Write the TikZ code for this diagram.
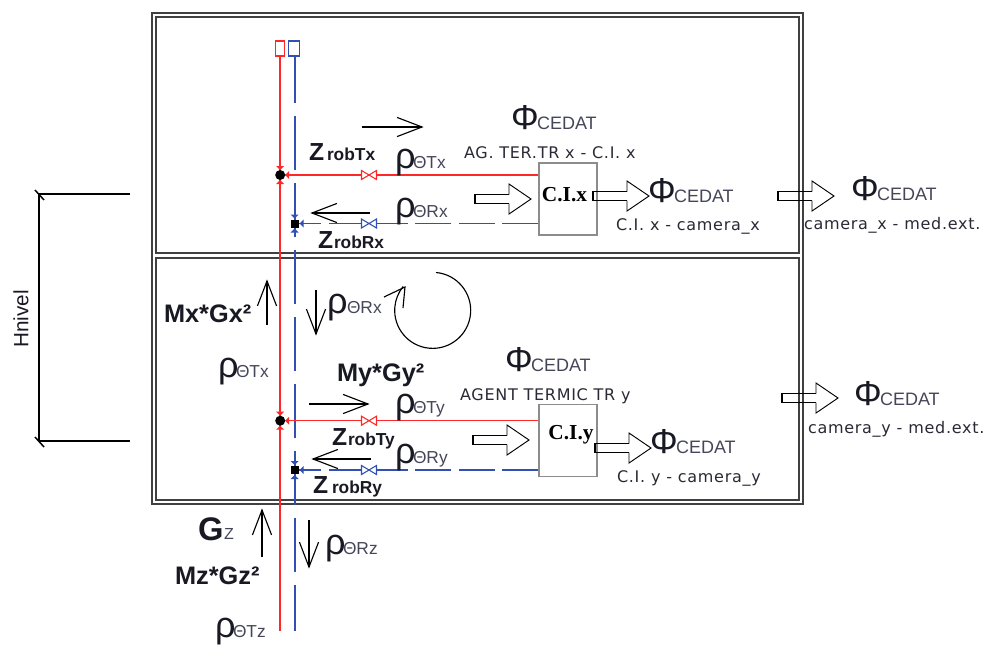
\documentclass[tikz,border=0pt]{standalone}
\usepackage{fontspec}
\setmainfont{DejaVu Sans}
\newfontfamily\capf[LetterSpace=4.5]{DejaVu Sans}
\newfontfamily\boldf{Liberation Sans}
\newfontfamily\ciserif{Liberation Serif}
\usetikzlibrary{calc}
\definecolor{redl}{RGB}{255,40,40}
\definecolor{bluel}{RGB}{50,80,180}
\definecolor{txt}{RGB}{25,25,35}
\definecolor{subt}{RGB}{70,70,90}
\newcommand{\sz}[1]{\fontsize{#1}{#1}\selectfont}
\newcommand{\oarrow}[2]{%
  \coordinate (oA) at #1; \coordinate (oB) at #2;
  \draw[thinl] (oA) -- (oB);
  \draw[thinl] ($(oB)!20pt!21:(oA)$) -- (oB) -- ($(oB)!20pt!-21:(oA)$);}
\newcommand{\blockar}[2]{% tail x, centre y
  \draw[blockhead] (#1+34,#2-4.5) -- ++(0,-10.5) -- ++(22,15) -- ++(-22,15) -- ++(0,-10.5);
  \draw[blockshaft] (#1+34,#2-4.5) -- (#1,#2-4.5) -- (#1,#2+4.5) -- (#1+34,#2+4.5);}
\newcommand{\valve}[4]{% x y colour name
  \node[inner sep=0,minimum size=0] (#4) at (#1,#2) {};
  \draw[#3,line width=0.8pt,fill=white] (#1-7.5,#2-4.5) -- (#1+7.5,#2+4.5) -- (#1+7.5,#2-4.5) -- (#1-7.5,#2+4.5) -- cycle;}
\newcommand{\phicedat}[3]{% name x y
  \node[lbl,anchor=base west] (#1) at (#2,#3) {\sz{26}\boldf Φ};
  \node[lbl,anchor=base west,text=subt] (#1s) at (#2+26,#3) {\sz{13.5}\boldf CEDAT};}
\newcommand{\rhol}[5]{% name x y sub offset
  \node[lbl,anchor=base west] (#1) at (#2,#3) {\sz{27}\boldf ρ};
  \node[lbl,anchor=base west,text=subt] (#1s) at (#2+#5,#3) {\sz{13}\boldf #4};}
\newcommand{\zrob}[5]{% name x y sub offset
  \node[lbl,anchor=base west] (#1) at (#2,#3) {\sz{18.5}\boldf\bfseries Z};
  \node[lbl,anchor=base west] (#1s) at (#2+#5,#3) {\sz{13}\boldf\bfseries #4};}
\tikzset{
  lbl/.style={inner sep=0,outer sep=0,text=txt},
  captxt/.style={inner sep=0,outer sep=0,text=subt!60!black,font=\capf\sz{12}},
  thinl/.style={black,line width=0.85pt},
  blockhead/.style={black,line width=0.7pt,line join=miter},
  blockshaft/.style={black,line width=1.2pt},
  frm/.style={draw=black!75!white,line width=1pt},
  cibox/.style={draw=black!45!white,line width=0.9pt,minimum width=43.5pt,minimum height=54pt,inner sep=0},
  citext/.style={inner sep=0,outer sep=0,font=\ciserif\bfseries\sz{16}},
  redw/.style={redl,line width=1.1pt},
  bluedash/.style={bluel,line width=1.3pt,dash pattern=on 40.5pt off 9.75pt,dash phase=6pt},
  bluedashh/.style={bluel,line width=1.2pt,dash pattern=on 27pt off 5.6pt},
  jdot/.style={circle,fill=black,inner sep=0,minimum size=7.5pt},
  jsq/.style={rectangle,fill=black,inner sep=0,minimum size=6pt},
  mlab/.style={lbl,anchor=base west,font=\boldf\bfseries\sz{19}},
}
\begin{document}
\begin{tikzpicture}[x=0.75pt,y=-0.75pt]
\useasboundingbox (0,0) rectangle (984,644);
\fill[white] (0,0) rectangle (984,644);
% frames
\draw[frm] (152,13) rectangle (803,504);
\draw[frm] (156,17) rectangle (799,253);
\draw[frm] (156,258) rectangle (799,500);
% vertical pipes
\node[draw=redl,line width=1pt,minimum width=6.75pt,minimum height=11.25pt,inner sep=0] (rtop) at (280.2,48.5) {};
\node[draw=bluel,line width=1pt,minimum width=8.25pt,minimum height=11.25pt,inner sep=0] (btop) at (294.2,48.5) {};
\coordinate (rbot) at (280.2,631);
\coordinate (bbot) at (294.7,631);
\draw[redw] (rtop.south) -- (rbot);
\draw[bluedash] (bbot) -- (bbot |- btop.south);
% CI boxes
\node[cibox] (cix) at (568,199) {};
\node[cibox] (ciy) at (568,440.5) {};
\node[citext] (cixt) at (564.5,195) {C.I.x};
\node[citext] (ciyt) at (571,435) {C.I.y};
% junctions
\node[jdot] (j1) at (280.2,175) {};
\node[jsq] (j2) at (294.7,223.5) {};
\node[jdot] (j3) at (280.2,420.7) {};
\node[jsq] (j4) at (294.7,470) {};
\draw[redw] (j1) -- (j1 -| cix.west);
\draw[redw] (j3) -- (j3 -| ciy.west);
\draw[bluedashh] (j2 -| cix.west) -- (j2);
\draw[bluedashh] (j4 -| ciy.west) -- (j4);
% valves
\valve{369}{175}{redl}{v1}
\valve{369}{223.5}{bluel}{v2}
\valve{369}{420.7}{redl}{v3}
\valve{369}{470}{bluel}{v4}
% small connector ticks
\foreach \j/\c in {j1/redl,j3/redl,j2/bluel,j4/bluel}{
  \fill[\c] ($(\j)+(-4,-9)$) -- ($(\j)+(4,-9)$) -- ($(\j)+(0,-5)$) -- cycle;
  \fill[\c] ($(\j)+(-4,9)$) -- ($(\j)+(4,9)$) -- ($(\j)+(0,5)$) -- cycle;
  \fill[\c] ($(\j)+(9,-4)$) -- ($(\j)+(9,4)$) -- ($(\j)+(5,0)$) -- cycle;
}
% block arrows
\blockar{475}{199}
\blockar{593}{196}
\blockar{778}{196}
\blockar{473}{440}
\blockar{595}{448}
\blockar{782}{398}
% open arrows
\oarrow{(362,127)}{(422,127)}
\oarrow{(370,213)}{(312,213)}
\oarrow{(309,404)}{(368,404)}
\oarrow{(371,459)}{(313,459)}
\oarrow{(267,325)}{(267,281)}
\oarrow{(316,290)}{(316,334)}
\oarrow{(262,557)}{(262,510)}
\oarrow{(309,520)}{(309,567)}
% circular arrow
\draw[thinl] (436,272.5) arc[start angle=-85,end angle=219,radius=38];
\draw[thinl] (384,297) -- (405,287) -- (403,308);
% Hnivel
\coordinate (ha) at (39,194);
\coordinate (hb) at (39,441);
\coordinate (hat) at (130,194);
\coordinate (hbt) at (130,441);
\draw[thinl] (ha) -- (hb);
\draw[thinl] (ha) -- (hat);
\draw[thinl] (hb) -- (hbt);
\draw[thinl,line width=1.1pt] (35,190) -- (44,200);
\draw[thinl,line width=1.1pt] (35,437) -- (44,447);
\node[lbl,rotate=90,font=\boldf\sz{15.5}] (hnivel) at (21,319) {Hnivel};
% phi labels
\phicedat{p1}{511}{129}
\phicedat{p2}{648}{202}
\phicedat{p3}{851}{200}
\phicedat{p4}{505}{371}
\phicedat{p5}{650}{453}
\phicedat{p6}{854}{405}
% captions
\node[captxt,anchor=base west] (c1) at (464,158) {AG. TER.TR x - C.I. x};
\node[captxt,anchor=base west] (c2) at (616,230) {C.I. x - camera\_x};
\node[captxt,anchor=base west] (c3) at (804,229) {camera\_x - med.ext.};
\node[captxt,anchor=base west] (c4) at (460,400) {AGENT TERMIC TR y};
\node[captxt,anchor=base west] (c5) at (617,482) {C.I. y - camera\_y};
\node[captxt,anchor=base west] (c6) at (808,433) {camera\_y - med.ext.};
% rho
\rhol{r1}{395}{168}{ΘTx}{18}
\rhol{r2}{395}{217}{ΘRx}{18}
\rhol{r3}{395}{413}{ΘTy}{18}
\rhol{r4}{395}{463}{ΘRy}{18}
\rhol{r5}{327}{313}{ΘRx}{20}
\rhol{r6}{218}{377}{ΘTx}{18}
\rhol{r7}{325}{554}{ΘRz}{18}
\rhol{r8}{215}{637}{ΘTz}{18}
% Z
\zrob{z1}{309}{160}{robTx}{18}
\zrob{z2}{318}{248}{robRx}{16}
\zrob{z3}{332}{445}{robTy}{16}
\zrob{z4}{313}{493}{robRy}{19}
% M
\node[mlab] (mx) at (164,322) {Mx*Gx²};
\node[mlab] (my) at (337,381) {My*Gy²};
\node[mlab] (mz) at (175,584) {Mz*Gz²};
\node[lbl,anchor=base west,font=\boldf\bfseries\sz{24.5}] (gz) at (198,540) {G};
\node[lbl,anchor=base west,font=\boldf\sz{12},text=subt] (gzs) at (224,539) {Z};
\end{tikzpicture}
\end{document}
